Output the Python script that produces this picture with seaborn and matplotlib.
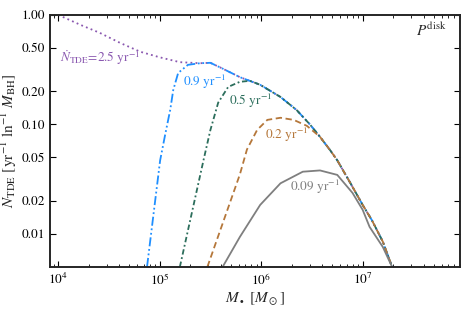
import numpy as np
import pandas as pd
import seaborn as sb
from matplotlib import pyplot as plt
from matplotlib.ticker import FixedLocator, LogLocator, NullFormatter, NullLocator, FixedFormatter

# shared high-mass envelope (all curves coincide there)
env_mass = [3.16e5, 3.98e5, 6.17e5, 9.77e5, 1.55e6, 2.24e6, 3.02e6, 3.8e6, 4.79e6,
            5.62e6, 7.59e6, 1.0e7, 1.23e7, 1.58e7, 1.95e7]
env_rate = [0.365, 0.33, 0.27, 0.23, 0.178, 0.135, 0.100, 0.077, 0.058,
            0.047, 0.029, 0.0184, 0.0134, 0.0085, 0.005]

# 2.5 / yr
m_25 = [1.0e4, 1.66e4, 2.57e4, 4.07e4, 6.46e4, 1.0e5, 1.58e5, 2.5e5] + env_mass
r_25 = [1.0, 0.81, 0.685, 0.555, 0.46, 0.41, 0.37, 0.362] + env_rate
# 0.9 / yr
m_09 = [7.5e4, 1.01e5, 1.13e5, 1.27e5, 1.36e5, 1.52e5, 1.9e5, 2.5e5] + env_mass
r_09 = [0.005, 0.047, 0.08, 0.136, 0.206, 0.295, 0.35, 0.362] + env_rate
# 0.5 / yr
m_05 = [1.58e5, 2.7e5, 3.16e5, 3.77e5, 4.73e5, 6.17e5, 7.76e5] + env_mass[3:]
r_05 = [0.005, 0.047, 0.089, 0.158, 0.22, 0.245, 0.25] + env_rate[3:]
# 0.2 / yr
m_02 = [2.95e5, 6.17e5, 7.24e5, 9.12e5, 1.15e6, 1.55e6, 2.09e6, 2.82e6] + env_mass[7:]
r_02 = [0.005, 0.035, 0.059, 0.089, 0.11, 0.115, 0.11, 0.097] + env_rate[7:]
# 0.09 / yr
m_009 = [4.17e5, 6.17e5, 9.77e5, 1.55e6, 2.57e6, 3.8e6, 5.62e6, 7.94e6, 1.0e7, 1.17e7, 1.58e7, 1.95e7]
r_009 = [0.005, 0.0094, 0.0184, 0.029, 0.037, 0.038, 0.0346, 0.0237, 0.0166, 0.0116, 0.0076, 0.005]

y_ticks = [0.01, 0.02, 0.05, 0.10, 0.20, 0.50, 1.00]
y_labels = ['0.01', '0.02', '0.05', '0.10', '0.20', '0.50', '1.00']

sb.set_style('ticks')
plt.rcParams['font.family'] = ['STIXGeneral', 'DejaVu Serif']
plt.rcParams['mathtext.fontset'] = 'stix'

fig, ax = plt.subplots(figsize=(4.63, 3.10), dpi=100)
fig.subplots_adjust(left=0.108, right=0.9935, bottom=0.139, top=0.952)

#curves, purple first so the others sit on top
lw = 1.3
sb.lineplot(x=m_25, y=r_25, ax=ax, color='#8a58b0', lw=lw, dashes=(1, 1.8), sort=False)
sb.lineplot(x=m_09, y=r_09, ax=ax, color='#1f8fff', lw=lw, dashes=(5, 1.5, 1, 1.5, 1, 1.5), sort=False)
sb.lineplot(x=m_05, y=r_05, ax=ax, color='#2c6e5c', lw=lw, dashes=(3, 1.5, 1, 1.5), sort=False)
sb.lineplot(x=m_02, y=r_02, ax=ax, color='#b5773a', lw=lw, dashes=(3.5, 2), sort=False)
sb.lineplot(x=m_009, y=r_009, ax=ax, color='#7f7f7f', lw=lw, sort=False)

ax.set_xscale('log')
ax.set_yscale('log')
ax.set_xlim(8.3e3, 9.1e7)
ax.set_ylim(0.005, 1.0)

ax.yaxis.set_major_locator(FixedLocator(y_ticks))
ax.yaxis.set_major_formatter(FixedFormatter(y_labels))
ax.yaxis.set_minor_locator(NullLocator())
ax.xaxis.set_major_locator(LogLocator(base=10, numticks=10))
ax.xaxis.set_minor_locator(LogLocator(base=10, subs=np.arange(2, 10), numticks=20))
ax.xaxis.set_minor_formatter(NullFormatter())

ax.tick_params(which='both', direction='in', top=True, right=True, labelsize=9.5, colors='black')
ax.tick_params(which='major', length=4, width=0.8)
ax.tick_params(which='minor', length=2, width=0.6)
for s in ax.spines.values():
    s.set_linewidth(1.4)

ax.set_xlabel(r'$M_\bullet$ [$M_\odot$]', fontsize=11, labelpad=2)
ax.set_ylabel(r'$\dot{N}_{\rm TDE}$ [yr$^{-1}$ ln$^{-1}$ $M_{\rm BH}$]', fontsize=11, labelpad=2)

#curve labels
ax.text(1.05e4, 0.41, r'$\dot{N}_{\rm TDE}$=2.5 yr$^{-1}$', color='#8a58b0', fontsize=9.5, va='center')
ax.text(1.7e5, 0.244, r'0.9 yr$^{-1}$', color='#1f8fff', fontsize=9.5, va='center')
ax.text(4.84e5, 0.164, r'0.5 yr$^{-1}$', color='#2c6e5c', fontsize=9.5, va='center')
ax.text(1.1e6, 0.080, r'0.2 yr$^{-1}$', color='#b5773a', fontsize=9.5, va='center')
ax.text(1.93e6, 0.0269, r'0.09 yr$^{-1}$', color='#7f7f7f', fontsize=9.5, va='center')
ax.text(0.968, 0.94, r'$P^{\rm disk}$', transform=ax.transAxes, fontsize=11, ha='right', va='center')

plt.savefig('out.png', dpi=100)
